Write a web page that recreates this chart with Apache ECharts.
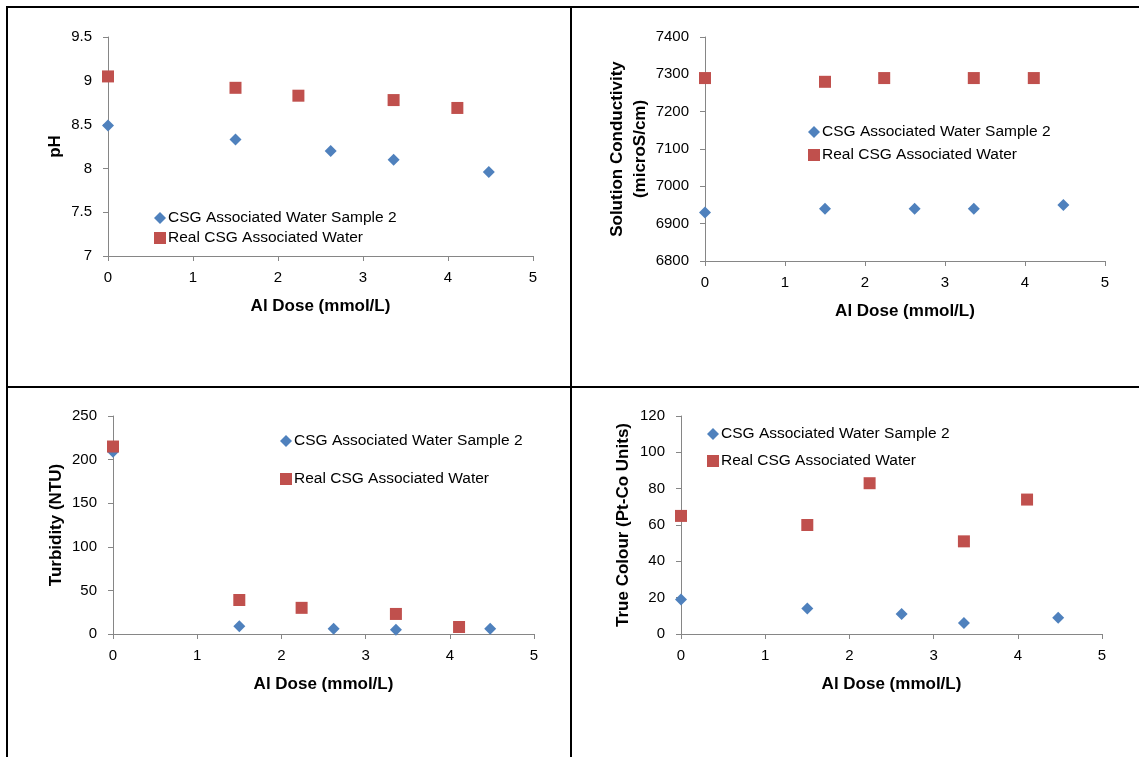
<!DOCTYPE html>
<html>
<head>
<meta charset="utf-8">
<script src="https://cdn.jsdelivr.net/npm/echarts@6/dist/echarts.min.js"></script>
<style>
  html, body { margin: 0; padding: 0; background: #fff; }
  #main { width: 1139px; height: 757px; }
</style>
</head>
<body>
<div id="main"></div>
<script>
// 数据
var seriesNames = ['CSG Associated Water Sample 2', 'Real CSG Associated Water'];
var doseSample = [0, 1.5, 2.62, 3.36, 4.48];
var doseReal = [0, 1.5, 2.24, 3.36, 4.11];

var phSample = [8.49, 8.33, 8.2, 8.1, 7.96];
var phReal = [9.05, 8.92, 8.83, 8.78, 8.69];

var condSample = [6930, 6940, 6940, 6940, 6950];
var condReal = [7290, 7280, 7290, 7290, 7290];

var turbSample = [209, 9, 6, 5, 6];
var turbReal = [215, 39, 30, 23, 8];

var colourSample = [19, 14, 11, 6, 9];
var colourReal = [65, 60, 83, 51, 74];

var blue = '#4F81BD';
var red = '#C0504D';
var font = '"Liberation Sans", Arial, sans-serif';

function pairs(xs, ys) {
  return xs.map(function (x, i) { return [x, ys[i]]; });
}

// 坐标轴
function xAxisOf(idx) {
  return {
    gridIndex: idx,
    type: 'value',
    min: 0, max: 5, interval: 1,
    name: 'Al Dose (mmol/L)',
    nameLocation: 'middle',
    nameGap: 42,
    nameTextStyle: { fontFamily: font, fontSize: 17, fontWeight: 'bold', color: '#000' },
    axisLine: { show: true, onZero: false, lineStyle: { color: '#868686', width: 1 } },
    axisTick: { show: true, length: 5, lineStyle: { color: '#868686' } },
    axisLabel: { margin: 14, fontFamily: font, fontSize: 15, color: '#000' },
    splitLine: { show: false }
  };
}

function yAxisOf(idx, name, min, max, interval, gap) {
  return {
    gridIndex: idx,
    type: 'value',
    min: min, max: max, interval: interval,
    name: name,
    nameLocation: 'middle',
    nameGap: gap,
    nameTextStyle: { fontFamily: font, fontSize: 17, fontWeight: 'bold', color: '#000', lineHeight: 23 },
    axisLine: { show: true, lineStyle: { color: '#868686', width: 1 } },
    axisTick: { show: true, length: 5, lineStyle: { color: '#868686' } },
    axisLabel: {
      margin: 16, fontFamily: font, fontSize: 15, color: '#000',
      formatter: function (v) { return String(v); }   // 不要千分位
    },
    splitLine: { show: false }
  };
}

function seriesOf(idx, sample, real) {
  return [
    {
      name: seriesNames[0], type: 'scatter', xAxisIndex: idx, yAxisIndex: idx,
      symbol: 'diamond', symbolSize: 12, itemStyle: { color: blue, opacity: 1 },
      data: pairs(doseSample, sample)
    },
    {
      name: seriesNames[1], type: 'scatter', xAxisIndex: idx, yAxisIndex: idx,
      symbol: 'rect', symbolSize: 12, itemStyle: { color: red, opacity: 1 },
      data: pairs(doseReal, real)
    }
  ];
}

function legendOf(left, top, gap) {
  return {
    orient: 'vertical',
    left: left, top: top,
    itemGap: gap,
    itemWidth: 12, itemHeight: 12,
    selectedMode: false,
    textStyle: { fontFamily: font, fontSize: 15.5, color: '#000', lineHeight: 16, padding: [0, 0, 0, -3] },
    data: [
      { name: seriesNames[0], icon: 'diamond', itemStyle: { opacity: 1 } },
      { name: seriesNames[1], icon: 'rect', itemStyle: { opacity: 1 } }
    ]
  };
}

// 边框线
function line(x1, y1, x2, y2) {
  return {
    type: 'line', silent: true,
    shape: { x1: x1, y1: y1, x2: x2, y2: y2 },
    style: { stroke: '#000', lineWidth: 2 }
  };
}

var option = {
  backgroundColor: '#fff',
  animation: false,
  grid: [
    { left: 108, top: 37, width: 425, height: 219 },
    { left: 705, top: 37, width: 400, height: 224 },
    { left: 113, top: 416, width: 421, height: 218 },
    { left: 681, top: 416, width: 421, height: 218 }
  ],
  xAxis: [xAxisOf(0), xAxisOf(1), xAxisOf(2), xAxisOf(3)],
  yAxis: [
    yAxisOf(0, 'pH', 7, 9.5, 0.5, 41),
    yAxisOf(1, 'Solution Conductivity\n(microS/cm)', 6800, 7400, 100, 50),
    yAxisOf(2, 'Turbidity (NTU)', 0, 250, 50, 45),
    yAxisOf(3, 'True Colour (Pt-Co Units)', 0, 120, 20, 46)
  ],
  legend: [
    legendOf(149, 205, 4),
    legendOf(803, 119, 7),
    legendOf(275, 428, 22),
    legendOf(702, 421, 11)
  ],
  series: []
    .concat(seriesOf(0, phSample, phReal))
    .concat(seriesOf(1, condSample, condReal))
    .concat(seriesOf(2, turbSample, turbReal))
    .concat(seriesOf(3, colourSample, colourReal)),
  graphic: [
    line(6, 7, 1139, 7),
    line(7, 6, 7, 757),
    line(571, 6, 571, 757),
    line(6, 387, 1139, 387)
  ]
};

var chart = echarts.init(document.getElementById('main'));
chart.setOption(option);

window.addEventListener('resize', function () {
  chart.resize();
});
</script>
</body>
</html>
